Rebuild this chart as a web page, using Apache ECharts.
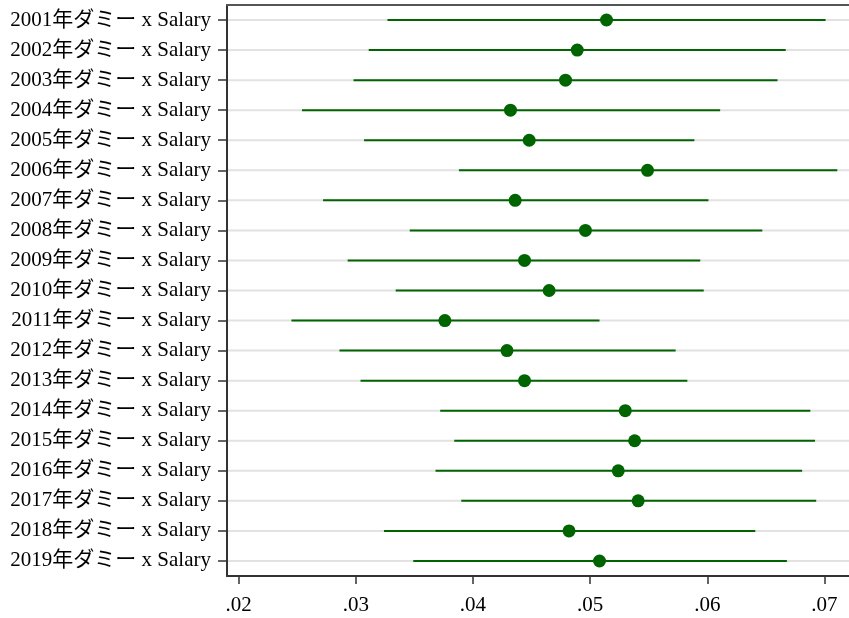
<!DOCTYPE html>
<html>
<head>
<meta charset="utf-8">
<script src="https://cdn.jsdelivr.net/npm/echarts@6/dist/echarts.min.js"></script>
<style>
html,body{margin:0;padding:0;background:#fff;}
#chart{width:849px;height:618px;}
</style>
</head>
<body>
<div id="chart"></div>
<script>
const categories = [
  '2001年ダミー x Salary','2002年ダミー x Salary','2003年ダミー x Salary','2004年ダミー x Salary',
  '2005年ダミー x Salary','2006年ダミー x Salary','2007年ダミー x Salary','2008年ダミー x Salary',
  '2009年ダミー x Salary','2010年ダミー x Salary','2011年ダミー x Salary','2012年ダミー x Salary',
  '2013年ダミー x Salary','2014年ダミー x Salary','2015年ダミー x Salary','2016年ダミー x Salary',
  '2017年ダミー x Salary','2018年ダミー x Salary','2019年ダミー x Salary'
];
const estimates = [0.0514,0.0489,0.0479,0.0432,0.0448,0.0549,0.0436,0.0496,0.0444,0.0465,
                   0.0376,0.0429,0.0444,0.0530,0.0538,0.0524,0.0541,0.0482,0.0508];
const lower = [0.0327,0.0311,0.0298,0.0254,0.0307,0.0388,0.0272,0.0346,0.0293,0.0334,
               0.0245,0.0286,0.0304,0.0372,0.0384,0.0368,0.0390,0.0324,0.0349];
const upper = [0.0701,0.0667,0.0660,0.0611,0.0589,0.0711,0.0601,0.0647,0.0594,0.0597,
               0.0508,0.0573,0.0583,0.0688,0.0692,0.0681,0.0693,0.0641,0.0668];
const xTicks = [0.02,0.03,0.04,0.05,0.06,0.07];

const FONT = '"Liberation Serif","Noto Sans CJK JP",serif';
const AXIS = '#333333';
const GREEN = '#006400';

const ciData = categories.map((c, i) => [i, lower[i], upper[i]]);
const pointData = categories.map((c, i) => [estimates[i], i]);

const chart = echarts.init(document.getElementById('chart'));
chart.setOption({
  animation: false,
  backgroundColor: '#ffffff',
  grid: {left: 227, right: 0, top: 5, bottom: 42, containLabel: false},
  xAxis: [{
    type: 'value', min: 0.019, max: 0.0721,
    axisLine: {show: true, lineStyle: {color: AXIS, width: 2}},
    axisTick: {show: true, length: 8, customValues: xTicks, lineStyle: {color: AXIS, width: 1.5}},
    axisLabel: {
      customValues: xTicks, margin: 19, fontSize: 21, color: '#000', fontFamily: FONT,
      formatter: v => v.toFixed(2).replace(/^0/, '')
    },
    splitLine: {show: false}
  }, {
    type: 'value', position: 'top', min: 0.019, max: 0.0721,
    axisLine: {show: true, lineStyle: {color: '#555555', width: 2}},
    axisTick: {show: false}, axisLabel: {show: false}, splitLine: {show: false}
  }],
  yAxis: {
    type: 'category', inverse: true, data: categories,
    axisLine: {show: true, lineStyle: {color: AXIS, width: 2}},
    axisTick: {show: true, alignWithLabel: true, length: 9, lineStyle: {color: AXIS, width: 1.5}},
    axisLabel: {margin: 16, fontSize: 21, color: '#000', fontFamily: FONT, padding: [3, 0, 0, 0]},
    splitLine: {show: false}
  },
  series: [{
    type: 'custom',
    data: ciData,
    encode: {x: [1, 2], y: 0},
    renderItem: function (params, api) {
      const yi = api.value(0);
      const p1 = api.coord([api.value(1), yi]);
      const p2 = api.coord([api.value(2), yi]);
      const cs = params.coordSys;
      return {
        type: 'group',
        children: [
          {type: 'line', shape: {x1: cs.x + 1, y1: p1[1], x2: cs.x + cs.width, y2: p1[1]},
           style: {stroke: '#e2e2e2', lineWidth: 2}},
          {type: 'line', shape: {x1: p1[0], y1: p1[1], x2: p2[0], y2: p2[1]},
           style: {stroke: GREEN, lineWidth: 2}}
        ]
      };
    },
    z: 2
  }, {
    type: 'scatter',
    data: pointData,
    symbol: 'circle',
    symbolSize: 13,
    itemStyle: {color: GREEN, opacity: 1},
    z: 3
  }]
});
</script>
</body>
</html>
